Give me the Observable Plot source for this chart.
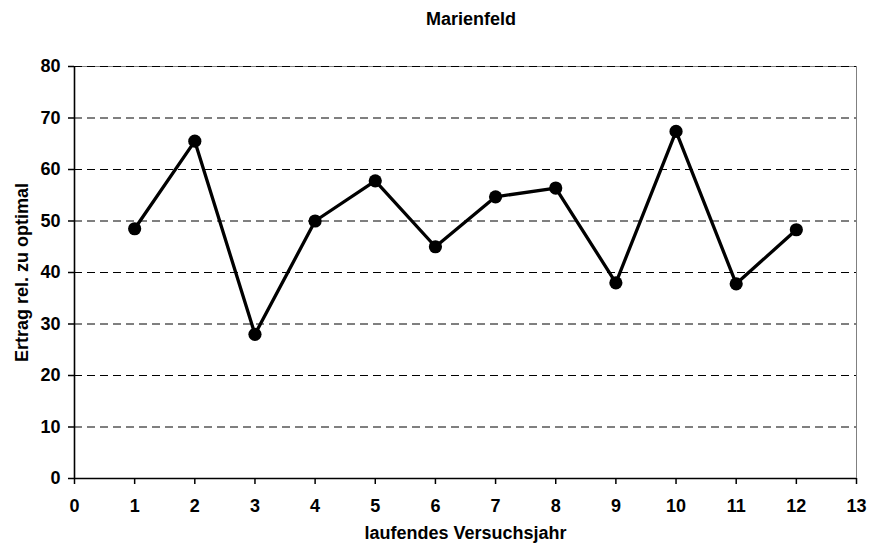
<!DOCTYPE html>
<html>
<head>
<meta charset="utf-8">
<script src="https://cdn.jsdelivr.net/npm/d3@7"></script>
<script src="https://cdn.jsdelivr.net/npm/@observablehq/plot@0.6"></script>
<style>
  html, body { margin: 0; padding: 0; background: #fff; }
</style>
</head>
<body>
<div id="chart"></div>
<script>
const title = "Marienfeld";
const xLabel = "laufendes Versuchsjahr";
const yLabel = "Ertrag rel. zu optimal";
const years = [1, 2, 3, 4, 5, 6, 7, 8, 9, 10, 11, 12];
const yields = [48.5, 65.5, 28, 50, 57.8, 45, 54.7, 56.4, 38, 67.4, 37.8, 48.3];
const xTicks = [0, 1, 2, 3, 4, 5, 6, 7, 8, 9, 10, 11, 12, 13];
const yTicks = [0, 10, 20, 30, 40, 50, 60, 70, 80];
const gridValues = [10, 20, 30, 40, 50, 60, 70, 80];

const data = years.map((x, i) => ({x, y: yields[i]}));
const font = "'Liberation Sans', Arial, Helvetica, sans-serif";
const fs = 18;

const chart = Plot.plot({
  width: 869,
  height: 546,
  marginLeft: 74,
  marginRight: 13,
  marginTop: 66,
  marginBottom: 68,
  style: {fontFamily: font, fontSize: fs + "px", background: "#fff", color: "#000"},
  x: {domain: [0, 13], axis: null},
  y: {domain: [0, 80], axis: null},
  marks: [
    Plot.ruleX([13], {stroke: "#808080", strokeWidth: 1}),
    Plot.ruleY([80], {stroke: "#808080", strokeWidth: 1}),
    Plot.ruleY(gridValues, {stroke: "#000", strokeWidth: 1, strokeDasharray: "8,5"}),
    Plot.ruleX([0], {stroke: "#000", strokeWidth: 1.6}),
    Plot.ruleY([0], {stroke: "#000", strokeWidth: 1.6}),
    Plot.axisY({ticks: yTicks, tickSize: 6, tickPadding: 8, strokeWidth: 1.5,
      fontSize: fs, fontWeight: "bold", fontFamily: font, label: null, tickFormat: d => String(d)}),
    Plot.axisX({ticks: xTicks, tickSize: 6, tickPadding: 15, strokeWidth: 1.5, lineAnchor: "top",
      fontSize: fs, fontWeight: "bold", fontFamily: font, label: null, tickFormat: d => String(d)}),
    Plot.line(data, {x: "x", y: "y", stroke: "#000", strokeWidth: 3.3, strokeLinejoin: "miter"}),
    Plot.dot(data, {x: "x", y: "y", r: 6.6, fill: "#000", stroke: "none"}),
    Plot.text([title], {frameAnchor: "top", lineAnchor: "top", textAnchor: "middle", dy: -54, dx: 5.5,
      fontSize: fs, fontWeight: "bold", fontFamily: font, fill: "#000"}),
    Plot.text([xLabel], {frameAnchor: "bottom", lineAnchor: "top", textAnchor: "middle", dy: 48,
      fontSize: fs, fontWeight: "bold", fontFamily: font, fill: "#000"}),
    Plot.text([yLabel], {frameAnchor: "left", lineAnchor: "top", textAnchor: "middle", dx: -59, rotate: -90,
      fontSize: fs, fontWeight: "bold", fontFamily: font, fill: "#000"})
  ]
});
document.getElementById("chart").appendChild(chart);
</script>
</body>
</html>
